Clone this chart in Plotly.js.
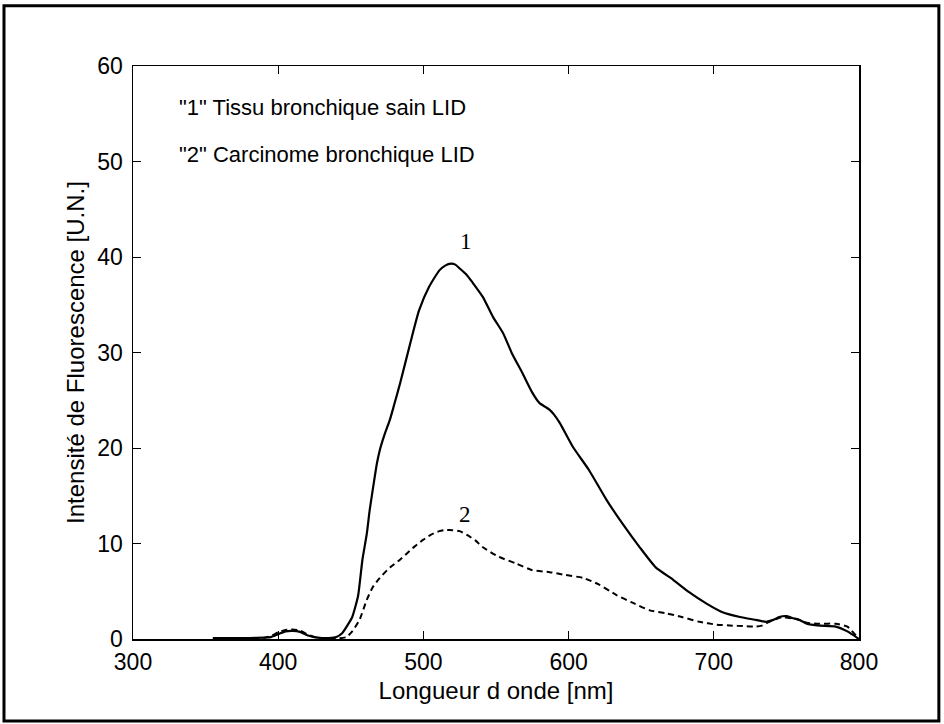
<!DOCTYPE html>
<html>
<head>
<meta charset="utf-8">
<script src="https://cdn.plot.ly/plotly-3.0.1.min.js"></script>
<style>html,body{margin:0;padding:0;background:#fff;}</style>
</head>
<body>
<div id="chart" style="width:944px;height:724px;"></div>
<script>
// Curve "1": Tissu bronchique sain LID (solid)
const wavelength1 = [355,360,370,380,390,395,400,405,410,415,420,425,430,435,440,444,448,451,455,458,461,463,466,468,470,473,477,480,484,491,497,504,511,515,519,522,525,530,534,541,548,555,561,568,575,580,584,587,590,594,603,614,626,637,649,660,672,683,695,706,718,729,736,741,745,750,754,759,764,773,784,792,800];
const intensity1 = [0.1,0.1,0.1,0.1,0.15,0.2,0.5,0.8,0.85,0.75,0.4,0.2,0.1,0.1,0.2,0.6,1.5,2.3,4.5,8.3,11,13.5,16.5,18.4,19.8,21.3,23.0,24.6,26.8,31,34.4,36.9,38.6,39.1,39.3,39.2,38.8,38.1,37.3,35.8,33.7,32,29.9,27.9,25.8,24.7,24.3,24,23.5,22.6,20.1,17.7,14.6,12.1,9.6,7.5,6.2,4.9,3.7,2.8,2.3,2.0,1.8,2.0,2.3,2.4,2.2,2.0,1.6,1.4,1.3,0.8,0.0];

// Curve "2": Carcinome bronchique LID (dashed)
const wavelength2 = [355,370,390,395,400,405,410,415,420,425,430,440,447,451,456,461,465,470,477,483,489,494,500,505,511,515,520,525,530,536,541,552,564,575,587,598,610,621,633,644,656,667,678,690,702,713,720,729,733,738,743,747,752,757,764,773,784,792,800];
const intensity2 = [0.05,0.05,0.1,0.3,0.7,0.95,1.0,0.9,0.5,0.2,0.05,0.05,0.2,0.8,2.0,4.1,5.4,6.4,7.5,8.2,9.0,9.7,10.4,10.9,11.3,11.4,11.4,11.3,10.9,10.3,9.6,8.6,7.9,7.2,7.0,6.7,6.4,5.7,4.6,3.8,3.0,2.7,2.3,1.8,1.5,1.4,1.35,1.3,1.4,1.8,2.1,2.3,2.2,2.1,1.7,1.6,1.6,1.3,0.0];

const legendLines = ['"1" Tissu bronchique sain LID', '"2" Carcinome bronchique LID'];
const curveLabels = ['1', '2'];
const curveLabelPos = [[529, 41.6], [528.5, 13.0]];

const xTitle = 'Longueur d onde [nm]';
const yTitle = 'Intensité de Fluorescence [U.N.]';

const traces = [
  {x: wavelength1, y: intensity1, type: 'scatter', mode: 'lines',
   line: {color: '#000', width: 2.2, shape: 'spline', smoothing: 0.5}, hoverinfo: 'skip'},
  {x: wavelength2, y: intensity2, type: 'scatter', mode: 'lines',
   line: {color: '#000', width: 2, dash: '6px,4px', shape: 'spline', smoothing: 0.5}, hoverinfo: 'skip'}
];

const fam = '"Liberation Sans", Arial, sans-serif';

const annotations = [
  {xref: 'paper', yref: 'paper', x: 0.0606, y: 0.927, xanchor: 'left', yanchor: 'middle',
   text: legendLines[0], showarrow: false, font: {family: fam, size: 22, color: '#000'}},
  {xref: 'paper', yref: 'paper', x: 0.0606, y: 0.846, xanchor: 'left', yanchor: 'middle',
   text: legendLines[1], showarrow: false, font: {family: fam, size: 22, color: '#000'}}
];
curveLabels.forEach((t, i) => {
  annotations.push({x: curveLabelPos[i][0], y: curveLabelPos[i][1], xref: 'x', yref: 'y',
    text: t, showarrow: false, xanchor: 'center', yanchor: 'middle',
    font: {family: '"Liberation Serif", "Times New Roman", serif', size: 23, color: '#000'}});
});

const layout = {
  width: 944, height: 724,
  margin: {l: 133, r: 85, t: 66, b: 85},
  paper_bgcolor: '#fff', plot_bgcolor: '#fff',
  showlegend: false,
  font: {family: fam, size: 23, color: '#000'},
  xaxis: {
    range: [300, 800], tickmode: 'linear', tick0: 300, dtick: 100,
    ticks: 'inside', ticklen: 8, tickwidth: 1, tickcolor: '#000',
    showline: true, linecolor: '#000', linewidth: 1.5, mirror: 'ticks',
    showgrid: false, zeroline: false, ticklabelstandoff: 2,
    tickfont: {family: fam, size: 23, color: '#000'},
    title: {text: xTitle, font: {family: fam, size: 24, color: '#000'}, standoff: 8}
  },
  yaxis: {
    range: [0, 60], tickmode: 'linear', tick0: 0, dtick: 10,
    ticks: 'inside', ticklen: 8, tickwidth: 1, tickcolor: '#000',
    showline: true, linecolor: '#000', linewidth: 1.5, mirror: 'ticks',
    showgrid: false, zeroline: false, ticklabelstandoff: 4,
    tickfont: {family: fam, size: 23, color: '#000'},
    title: {text: yTitle, font: {family: fam, size: 24, color: '#000'}, standoff: 6}
  },
  annotations: annotations,
  shapes: [
    {type: 'rect', xref: 'paper', yref: 'paper', x0: -0.1777, x1: 1.110, y0: -0.143, y1: 1.105,
     line: {color: '#000', width: 3}, fillcolor: 'rgba(0,0,0,0)', layer: 'above'}
  ]
};

Plotly.newPlot('chart', traces, layout, {staticPlot: true, displayModeBar: false});
</script>
</body>
</html>
